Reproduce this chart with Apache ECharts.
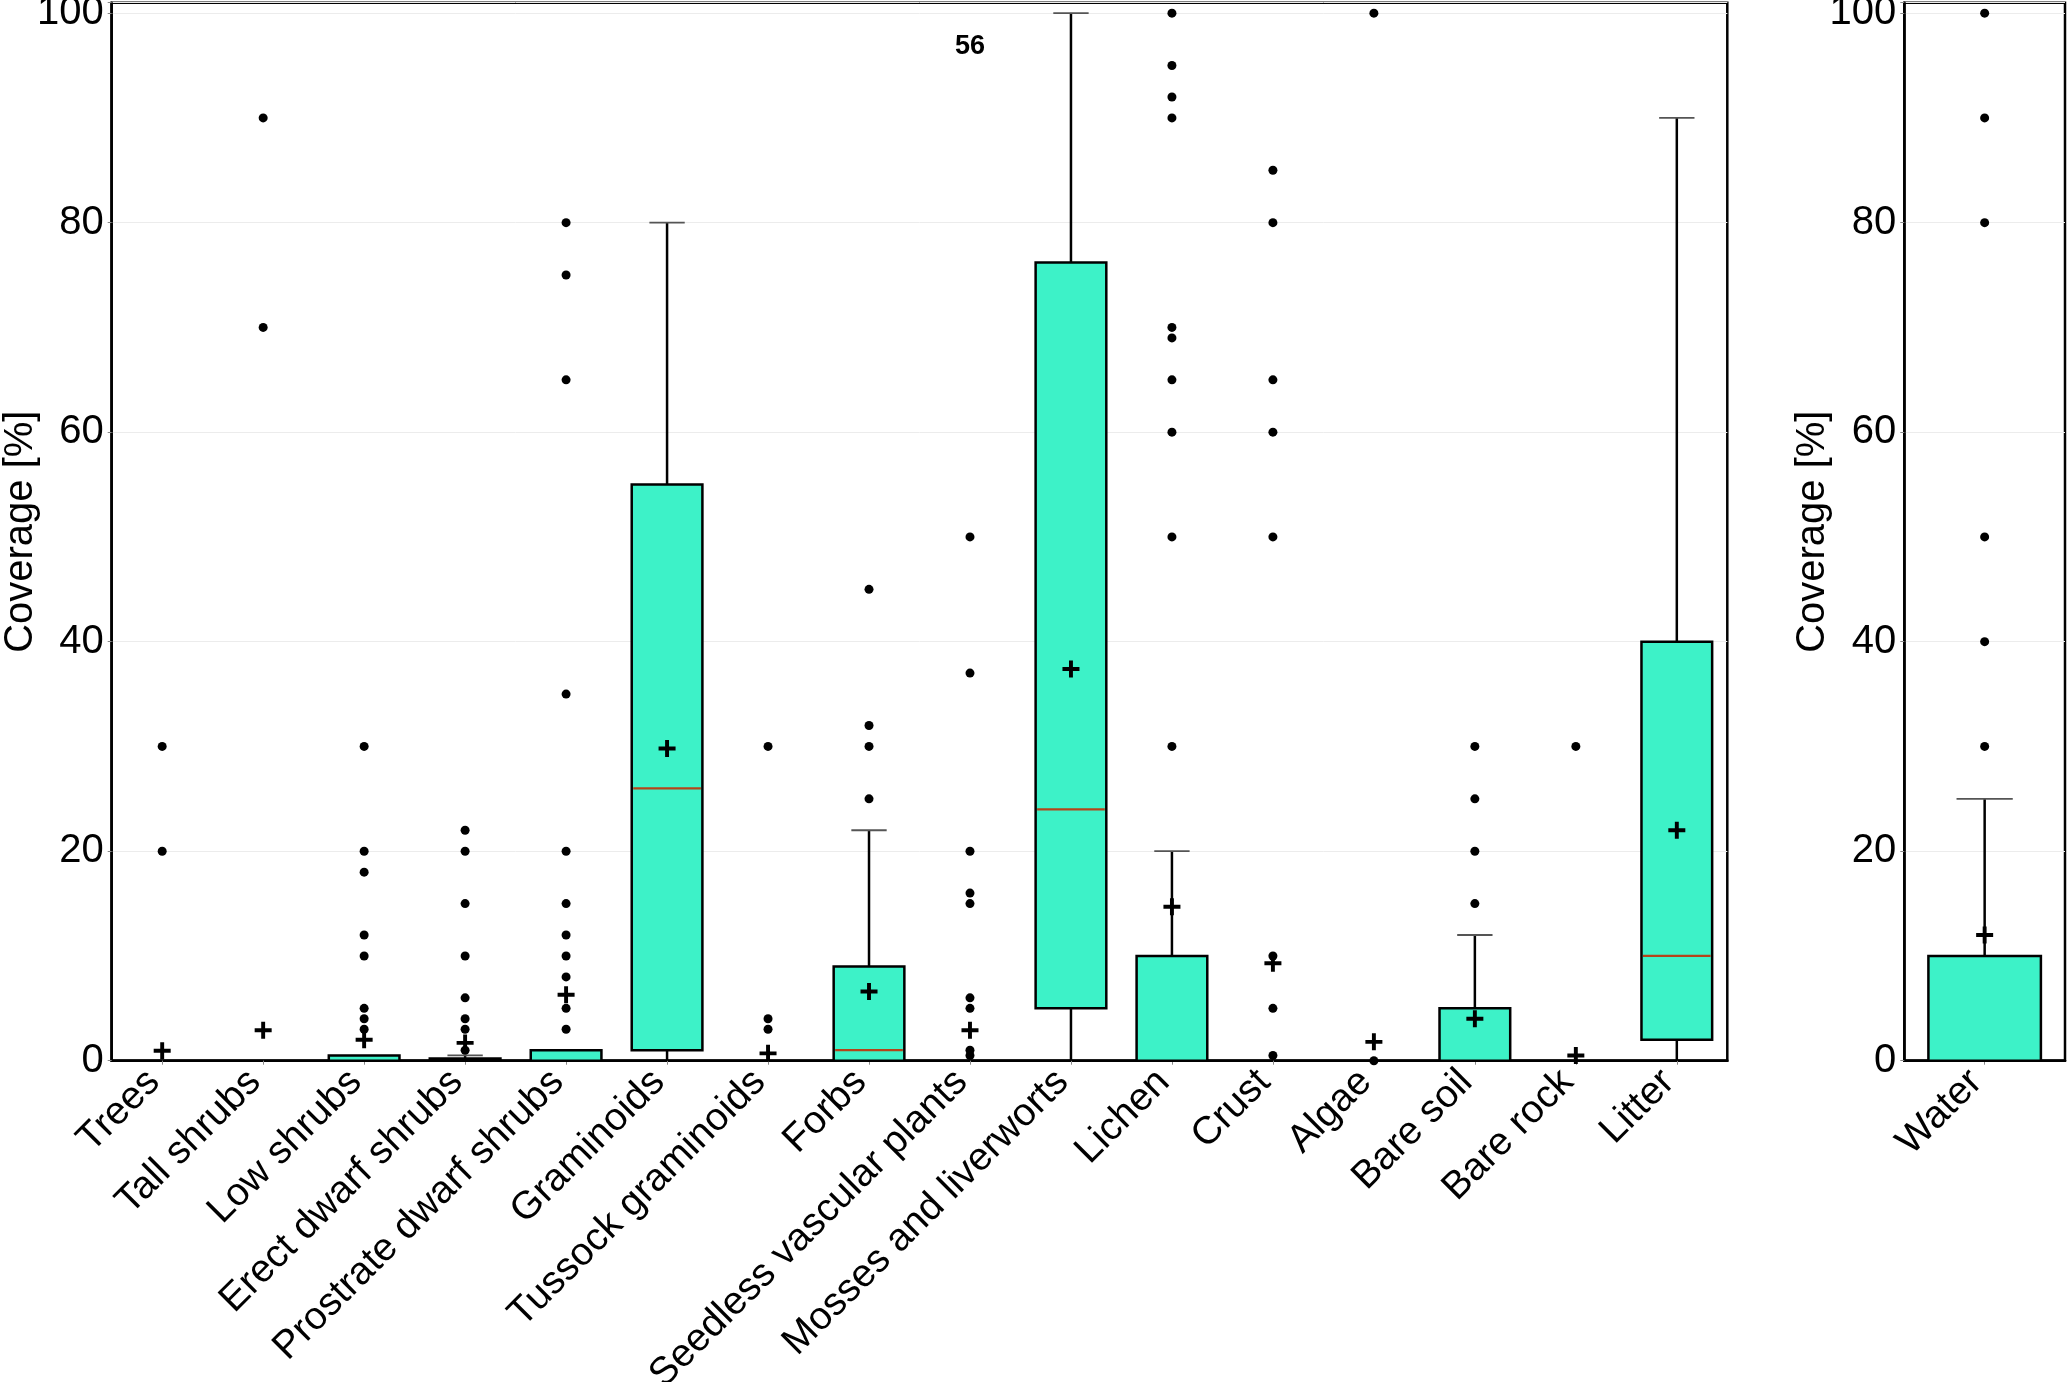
<!DOCTYPE html>
<html>
<head>
<meta charset="utf-8">
<script src="https://cdn.jsdelivr.net/npm/echarts@6/dist/echarts.min.js"></script>
<style>
html,body{margin:0;padding:0;background:#fff;}
#chart{width:2067px;height:1382px;}
</style>
</head>
<body>
<div id="chart"></div>
<script>
// ---------- data ----------
const categories = ['Trees','Tall shrubs','Low shrubs','Erect dwarf shrubs','Prostrate dwarf shrubs','Graminoids','Tussock graminoids','Forbs','Seedless vascular plants','Mosses and liverworts','Lichen','Crust','Algae','Bare soil','Bare rock','Litter'];
const whiskerLow = [0,0,0,0,0,0,0,0,0,0,0,0,0,0,0,0];
const q1Values   = [0,0,0,0,0,1,0,0,0,5,0,0,0,0,0,2];
const medians    = [0,0,0,0,0,26,0,1,0,24,0,0,0,0,0,10];
const q3Values   = [0,0,0.5,0.2,1,55,0,9,0,76.2,10,0,0,5,0,40];
const whiskerHigh= [0,0,0.5,0.5,1,80,0,22,0,100,20,0,0,12,0,90];
const means      = [0.95,2.9,2.0,1.7,6.3,29.8,0.7,6.6,2.9,37.4,14.7,9.3,1.8,4.0,0.5,22.0];
const outliers = [
  [30,20],
  [90,70],
  [30,20,18,12,10,5,4,3],
  [22,20,15,10,6,4,3,1],
  [80,75,65,35,20,15,12,10,8,5,3],
  [],
  [30,4,3],
  [45,32,30,25],
  [50,37,20,16,15,6,5,1,0.5],
  [],
  [100,95,92,90,70,69,65,60,50,30],
  [85,80,65,60,50,10,5,0.5],
  [100,0],
  [30,25,20,15],
  [30],
  []
];
const annotations = [{category:'Seedless vascular plants', y:96.85, text:'56'}];

const waterCategories = ['Water'];
const waterWhiskerLow = [0];
const waterQ1 = [0];
const waterMedian = [0];
const waterQ3 = [10];
const waterWhiskerHigh = [25];
const waterMean = [12];
const waterOutliers = [[100,90,80,50,40,30]];

const yTicks = [0,20,40,60,80,100];

// ---------- styles ----------
const FONT = 'Liberation Sans, Arial, Helvetica, sans-serif';
const FS = 40;
const XFS = 39;
const BOX_FILL = '#3df2c8';
const MEDIAN_COLOR = '#b4441a';
const PLUS = 'path://M0.385,0H0.615V0.385H1V0.615H0.615V1H0.385V0.615H0V0.385H0.385Z';

function boxData(lo, a, m, b, hi) {
  return lo.map((v, i) => [i, lo[i], a[i], m[i], b[i], hi[i]]);
}
function outlierData(arr) {
  const out = [];
  arr.forEach((list, i) => list.forEach(v => out.push([i, v])));
  return out;
}
function meanData(arr) { return arr.map((v, i) => [i, v]); }

function renderBox(params, api) {
  const x = api.value(0);
  const lo = api.value(1), a = api.value(2), m = api.value(3), b = api.value(4), hi = api.value(5);
  const band = api.size([1, 0])[0];
  const bw = band * 0.70, cw = band * 0.35;
  const cx = api.coord([x, 0])[0];
  const y = v => api.coord([x, v])[1];
  const children = [];
  if (hi > b) {
    children.push({type:'line', shape:{x1:cx, y1:y(b), x2:cx, y2:y(hi)}, style:{stroke:'#000', lineWidth:2.5}});
    children.push({type:'line', shape:{x1:cx-cw/2, y1:y(hi), x2:cx+cw/2, y2:y(hi)}, style:{stroke:'#555', lineWidth:1.8}});
  }
  if (lo < a) {
    children.push({type:'line', shape:{x1:cx, y1:y(a), x2:cx, y2:y(lo)}, style:{stroke:'#000', lineWidth:2.5}});
    if (lo > 0) children.push({type:'line', shape:{x1:cx-cw/2, y1:y(lo), x2:cx+cw/2, y2:y(lo)}, style:{stroke:'#555', lineWidth:1.8}});
  }
  if (b > a) {
    children.push({type:'rect', shape:{x:cx-bw/2, y:y(b), width:bw, height:y(a)-y(b)}, style:{fill:BOX_FILL, stroke:'#000', lineWidth:2.5}});
    if (m > a && m < b) {
      children.push({type:'line', shape:{x1:cx-bw/2+1.5, y1:y(m), x2:cx+bw/2-1.5, y2:y(m)}, style:{stroke:MEDIAN_COLOR, lineWidth:2.2}});
    }
  }
  return {type:'group', children};
}

function yAxisCfg(gridIndex, nameGap) {
  return {
    type:'value', gridIndex, min:0, max:101, interval:20,
    name:'Coverage [%]', nameLocation:'middle', nameGap, nameMoveOverlap:false,
    nameTextStyle:{fontFamily:FONT, fontSize:FS, color:'#000'},
    axisLine:{show:true, lineStyle:{color:'#000', width:2.5}},
    axisTick:{show:true, length:4, lineStyle:{color:'#888', width:1}},
    axisLabel:{margin:8, fontFamily:FONT, fontSize:FS, color:'#000', formatter: v => yTicks.indexOf(v) >= 0 ? String(v) : ''},
    splitLine:{show:true, lineStyle:{color:'#ececec', width:1}}
  };
}
function xAxisCfg(gridIndex, data) {
  return {
    type:'category', gridIndex, data, boundaryGap:true,
    axisLine:{show:true, onZero:false, lineStyle:{color:'#000', width:2.5}},
    axisTick:{show:true, alignWithLabel:true, length:4, lineStyle:{color:'#888', width:1}},
    axisLabel:{rotate:45, margin:7, interval:0, padding:[0,12,0,0], fontFamily:FONT, fontSize:XFS, color:'#000'},
    splitLine:{show:false}
  };
}

const chart = echarts.init(document.getElementById('chart'), null, {renderer:'canvas'});
chart.setOption({
  backgroundColor:'#fff',
  animation:false,
  grid:[
    {left:111.7, top:2.7, right:339.7, bottom:321.3, containLabel:false, outerBoundsMode:'none', show:true, borderColor:'#000', borderWidth:2.5},
    {left:1904.3, top:2.7, right:2, bottom:321.3, containLabel:false, outerBoundsMode:'none', show:true, borderColor:'#000', borderWidth:2.5}
  ],
  xAxis:[xAxisCfg(0, categories), xAxisCfg(1, waterCategories)],
  yAxis:[yAxisCfg(0, 71), yAxisCfg(1, 71)],
  series:[
    {type:'custom', xAxisIndex:0, yAxisIndex:0, renderItem:renderBox, data:boxData(whiskerLow,q1Values,medians,q3Values,whiskerHigh), z:2},
    {type:'scatter', xAxisIndex:0, yAxisIndex:0, data:outlierData(outliers), symbol:'circle', symbolSize:9, itemStyle:{color:'#000', opacity:1}, clip:true, z:4},
    {type:'scatter', xAxisIndex:0, yAxisIndex:0, data:meanData(means), symbol:PLUS, symbolSize:17, itemStyle:{color:'#000', opacity:1}, clip:true, z:5},
    {type:'scatter', xAxisIndex:0, yAxisIndex:0, symbolSize:0,
      data:annotations.map(d => ({value:[categories.indexOf(d.category), d.y], name:d.text})),
      label:{show:true, position:'inside', formatter: p => p.name, fontFamily:FONT, fontWeight:'bold', fontSize:27, color:'#000', opacity:1}, itemStyle:{opacity:1}, z:6},
    {type:'custom', xAxisIndex:1, yAxisIndex:1, renderItem:renderBox, data:boxData(waterWhiskerLow,waterQ1,waterMedian,waterQ3,waterWhiskerHigh), z:2},
    {type:'scatter', xAxisIndex:1, yAxisIndex:1, data:outlierData(waterOutliers), symbol:'circle', symbolSize:9, itemStyle:{color:'#000', opacity:1}, clip:true, z:4},
    {type:'scatter', xAxisIndex:1, yAxisIndex:1, data:meanData(waterMean), symbol:PLUS, symbolSize:17, itemStyle:{color:'#000', opacity:1}, clip:true, z:5}
  ]
});
</script>
</body>
</html>
